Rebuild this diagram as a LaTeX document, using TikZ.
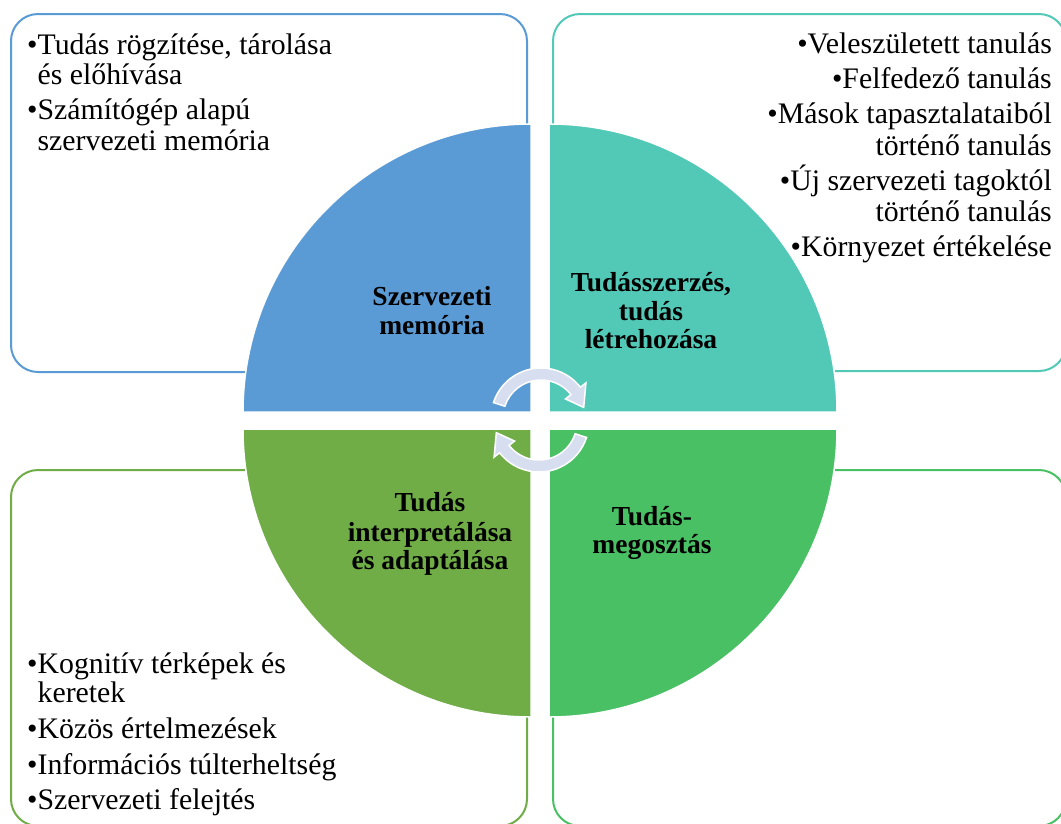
\documentclass[tikz,border=0pt]{standalone}
\usepackage{fontspec}
\setmainfont{Liberation Serif}
\definecolor{qblue}{RGB}{91,155,213}
\definecolor{qteal}{RGB}{82,201,183}
\definecolor{qlgreen}{RGB}{112,173,71}
\definecolor{qgreen}{RGB}{74,192,100}
\definecolor{arrowgrey}{RGB}{214,222,240}
\tikzset{
  boxline/.style={line width=2pt, rounded corners=27pt},
  quad/.style={draw=white, line width=1.5pt},
  itemtxt/.style={inner sep=0pt, font=\fontsize{29.8}{32}\selectfont},
  labeltxt/.style={inner sep=0pt, font=\fontsize{27.5}{30}\selectfont\bfseries},
  cyclearrow/.style={fill=arrowgrey, draw=white, line width=1.5pt, line join=miter}
}
\begin{document}
\begin{tikzpicture}[x=1pt,y=-1pt]
\useasboundingbox (0,0) rectangle (1061,823);
\fill[white] (0,0) rectangle (1061,823);
% outer text boxes
\draw[boxline, draw=qblue] (11,14) rectangle (527,372);
\draw[boxline, draw=qteal] (553,14) rectangle (1066,371);
\draw[boxline, draw=qlgreen] (11,470) rectangle (527,826);
\draw[boxline, draw=qgreen] (553,470) rectangle (1066,826);
% quadrants
\filldraw[quad, fill=qblue] (531,412) -- (243,412) arc[start angle=180, end angle=270, radius=288] -- cycle;
\filldraw[quad, fill=qteal] (549,412) -- (549,124) arc[start angle=270, end angle=360, radius=288] -- cycle;
\filldraw[quad, fill=qlgreen] (531,429) -- (531,717) arc[start angle=90, end angle=180, radius=288] -- cycle;
\filldraw[quad, fill=qgreen] (549,429) -- (837,429) arc[start angle=0, end angle=90, radius=288] -- cycle;
% cycle arrows
\begin{scope}[shift={(541,418)}]
\filldraw[cyclearrow] (-162:50) arc[start angle=-162, end angle=-38, radius=50] -- (-38:57) -- (-14:44) -- (-38:31) -- (-38:38) arc[start angle=-38, end angle=-162, radius=38] -- cycle;
\end{scope}
\begin{scope}[shift={(539,422)}]
\filldraw[cyclearrow] (18:50) arc[start angle=18, end angle=142, radius=50] -- (142:57) -- (166:44) -- (142:31) -- (142:38) arc[start angle=142, end angle=18, radius=38] -- cycle;
\end{scope}
% quadrant labels
\node[labeltxt, anchor=base] (m1) at (432,305) {Szervezeti};
\node[labeltxt, anchor=base] (m2) at (432,334) {memória};
\node[labeltxt, anchor=base] (a1) at (651,291) {Tudásszerzés,};
\node[labeltxt, anchor=base] (a2) at (651,320) {tudás};
\node[labeltxt, anchor=base] (a3) at (651,348) {létrehozása};
\node[labeltxt, anchor=base] (i1) at (430,511) {Tudás};
\node[labeltxt, anchor=base] (i2) at (430,541) {interpretálása};
\node[labeltxt, anchor=base] (i3) at (430,569) {és adaptálása};
\node[labeltxt, anchor=base] (s1) at (652,525) {Tudás-};
\node[labeltxt, anchor=base] (s2) at (652,553) {megosztás};
% top-left list
\node[itemtxt, anchor=base west] (tl1) at (27,54) {•Tudás rögzítése, tárolása};
\node[itemtxt, anchor=base west] (tl2) at (27,84) {\hphantom{•}és előhívása};
\node[itemtxt, anchor=base west] (tl3) at (27,119) {•Számítógép alapú};
\node[itemtxt, anchor=base west] (tl4) at (27,150) {\hphantom{•}szervezeti memória};
% top-right list
\node[itemtxt, anchor=base east] (tr1) at (1052,53) {•Veleszületett tanulás};
\node[itemtxt, anchor=base east] (tr2) at (1052,88) {•Felfedező tanulás};
\node[itemtxt, anchor=base east] (tr3) at (1052,123) {•Mások tapasztalataiból};
\node[itemtxt, anchor=base east] (tr4) at (1052,155) {történő tanulás};
\node[itemtxt, anchor=base east] (tr5) at (1052,190) {•Új szervezeti tagoktól};
\node[itemtxt, anchor=base east] (tr6) at (1052,221) {történő tanulás};
\node[itemtxt, anchor=base east] (tr7) at (1052,256) {•Környezet értékelése};
% bottom-left list
\node[itemtxt, anchor=base west] (bl1) at (27,673) {•Kognitív térképek és};
\node[itemtxt, anchor=base west] (bl2) at (27,702) {\hphantom{•}keretek};
\node[itemtxt, anchor=base west] (bl3) at (27,738) {•Közös értelmezések};
\node[itemtxt, anchor=base west] (bl4) at (27,774) {•Információs túlterheltség};
\node[itemtxt, anchor=base west] (bl5) at (27,809) {•Szervezeti felejtés};
\end{tikzpicture}
\end{document}
